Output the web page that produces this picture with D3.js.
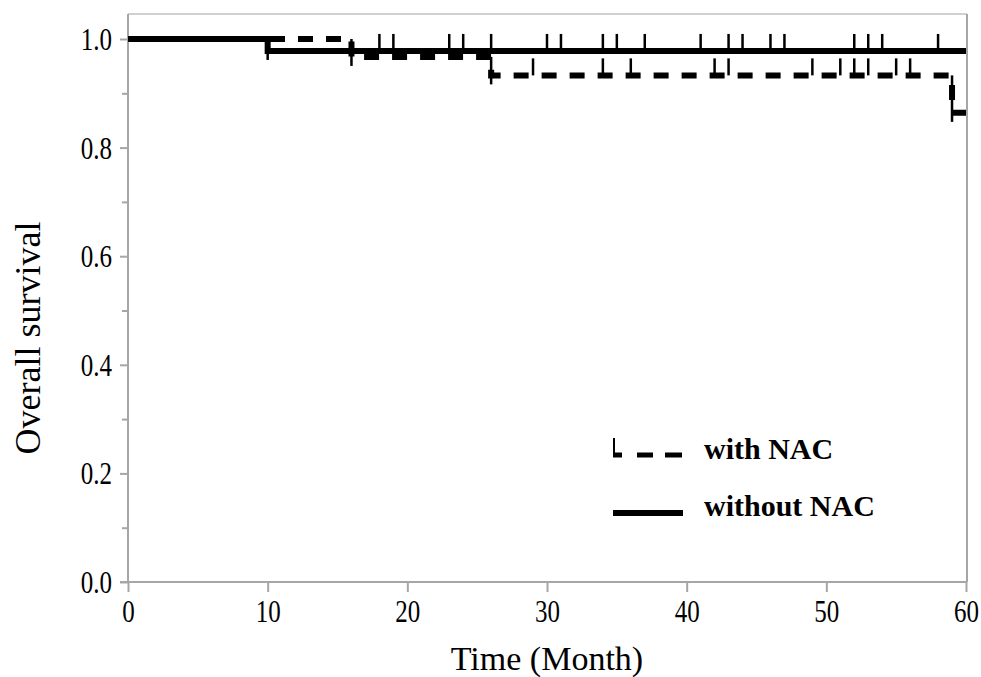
<!DOCTYPE html>
<html>
<head>
<meta charset="utf-8">
<script src="https://cdn.jsdelivr.net/npm/d3@7"></script>
<style>
  body { margin: 0; background: #fff; }
  svg { display: block; }
</style>
</head>
<body>
<svg width="981" height="677"></svg>
<script>
"use strict";

// SVG.

var svg = d3.select("svg");

// Data.

var yTicks = [0.0, 0.2, 0.4, 0.6, 0.8, 1.0];
var yMinorTicks = [0.1, 0.3, 0.5, 0.7, 0.9];
var xTicks = [0, 10, 20, 30, 40, 50, 60];

// Step points (time, survival) for each group.
var withTimes = [0, 16, 26, 59, 60];
var withSurv = [1.0, 0.967, 0.933, 0.864, 0.864];
var withCensor = [29, 34, 36, 42, 43, 49, 51, 52, 53, 55, 56];

var withoutTimes = [0, 10, 60];
var withoutSurv = [1.0, 0.978, 0.978];
var withoutCensor = [18, 19, 23, 24, 26, 30, 31, 34, 35, 37, 41, 43, 44, 46, 47, 52, 53, 54, 58];

var legendLabels = ["with NAC", "without NAC"];

// Layout constants.

var Left = 128, Right = 966, Top = 14, Bottom = 582;
var AxisColor = "#a6a6a6";
var Font = "'Liberation Serif', 'Times New Roman', serif";
var LineWidth = 6;
var TickWidth = 2.5;
var CensorLen = 17;
var DropExtra = 9;
var Stretch = 1.3; // tick labels are drawn taller than wide

var x = d3.scaleLinear().domain([0, 60]).range([Left, Right]);
var y = d3.scaleLinear().domain([0, 1]).range([Bottom, 39]);

// Frame (top and right, light gray).

svg.append("line")
    .attr("x1", Left).attr("x2", Right + 1)
    .attr("y1", Top).attr("y2", Top)
    .style("stroke", "#d0d0d0").style("stroke-width", 2);
svg.append("line")
    .attr("x1", Right + 1).attr("x2", Right + 1)
    .attr("y1", Top).attr("y2", Bottom)
    .style("stroke", AxisColor).style("stroke-width", 2);

// Axes.

var yAxis = svg.append("g")
    .attr("transform", "translate(" + Left + ",0)")
    .call(d3.axisLeft(y).tickValues(yTicks).tickSize(8).tickPadding(8)
        .tickFormat(d3.format(".1f")));

var yMinor = svg.append("g")
    .attr("transform", "translate(" + Left + ",0)")
    .call(d3.axisLeft(y).tickValues(yMinorTicks).tickSize(6).tickFormat(""));

var xAxis = svg.append("g")
    .attr("transform", "translate(0," + Bottom + ")")
    .call(d3.axisBottom(x).tickValues(xTicks).tickSize(10).tickPadding(6)
        .tickFormat(d3.format("d")));

[yAxis, yMinor, xAxis].forEach(function(g){
    g.select(".domain").remove();
    g.selectAll(".tick line").style("stroke", AxisColor).style("stroke-width", 2);
    g.selectAll("text")
        .style("font-family", Font)
        .style("font-size", "25px")
        .style("fill", "#000")
        .attr("transform", "scale(1," + Stretch + ")");
});

// Keep x labels' top where it was after the stretch.
xAxis.selectAll("text").attr("y", 17 / Stretch);

// Axis lines.
svg.append("line")
    .attr("x1", Left).attr("x2", Left)
    .attr("y1", Top).attr("y2", Bottom)
    .style("stroke", AxisColor).style("stroke-width", 2);
svg.append("line")
    .attr("x1", Left - 8).attr("x2", Right + 1)
    .attr("y1", Bottom).attr("y2", Bottom)
    .style("stroke", AxisColor).style("stroke-width", 2);

// Axis titles.

svg.append("text")
    .attr("x", (Left + Right) / 2)
    .attr("y", 670)
    .attr("text-anchor", "middle")
    .style("font-family", Font)
    .style("font-size", "34px")
    .text("Time (Month)");

svg.append("text")
    .attr("transform", "translate(40,338) rotate(-90)")
    .attr("text-anchor", "middle")
    .style("font-family", Font)
    .style("font-size", "36px")
    .text("Overall survival");

// Curves.

var stepLine = d3.line()
    .x(function(d){ return x(d[0]); })
    .y(function(d){ return y(d[1]); })
    .curve(d3.curveStepAfter);

var SurvivalAt = function(times, surv, t){
    var s = surv[0];
    for (var i = 0; i < times.length; i++){
        if (times[i] <= t) s = surv[i];
    }
    return s;
};

var DrawCurve = function(times, surv, censor, dashed){
    var pts = times.map(function(t, i){ return [t, surv[i]]; });

    svg.append("path")
        .datum(pts)
        .attr("d", stepLine)
        .style("fill", "none")
        .style("stroke", "#000")
        .style("stroke-width", LineWidth)
        .style("stroke-dasharray", dashed ? "15,13" : null)
        .style("stroke-dashoffset", dashed ? -2 : null);

    // Thin drop marks at each event.
    for (var i = 1; i < times.length; i++){
        if (surv[i] < surv[i-1]){
            svg.append("line")
                .attr("x1", x(times[i])).attr("x2", x(times[i]))
                .attr("y1", y(surv[i-1])).attr("y2", y(surv[i]) + DropExtra)
                .style("stroke", "#000").style("stroke-width", TickWidth);
        }
    }

    // Censor ticks.
    svg.append("g").selectAll("line")
        .data(censor)
        .enter()
        .append("line")
            .attr("x1", function(d){ return x(d); })
            .attr("x2", function(d){ return x(d); })
            .attr("y1", function(d){ return y(SurvivalAt(times, surv, d)); })
            .attr("y2", function(d){ return y(SurvivalAt(times, surv, d)) - CensorLen; })
            .style("stroke", "#000")
            .style("stroke-width", TickWidth);
};

// Dashed first, solid on top.
DrawCurve(withTimes, withSurv, withCensor, true);
DrawCurve(withoutTimes, withoutSurv, withoutCensor, false);

// Legend.

var legend = svg.append("g");

legend.append("line")
    .attr("x1", 613).attr("x2", 682)
    .attr("y1", 455).attr("y2", 455)
    .style("stroke", "#000").style("stroke-width", 5)
    .style("stroke-dasharray", "9,15,16,12,17");
legend.append("line")
    .attr("x1", 614).attr("x2", 614)
    .attr("y1", 438).attr("y2", 457)
    .style("stroke", "#000").style("stroke-width", 2);
legend.append("line")
    .attr("x1", 613).attr("x2", 683)
    .attr("y1", 513).attr("y2", 513)
    .style("stroke", "#000").style("stroke-width", 6);

legend.selectAll("text")
    .data(legendLabels)
    .enter()
    .append("text")
        .attr("x", 704)
        .attr("y", function(d, i){ return 459 + i*57; })
        .style("font-family", Font)
        .style("font-size", "30px")
        .style("font-weight", "bold")
        .text(function(d){ return d; });
</script>
</body>
</html>
